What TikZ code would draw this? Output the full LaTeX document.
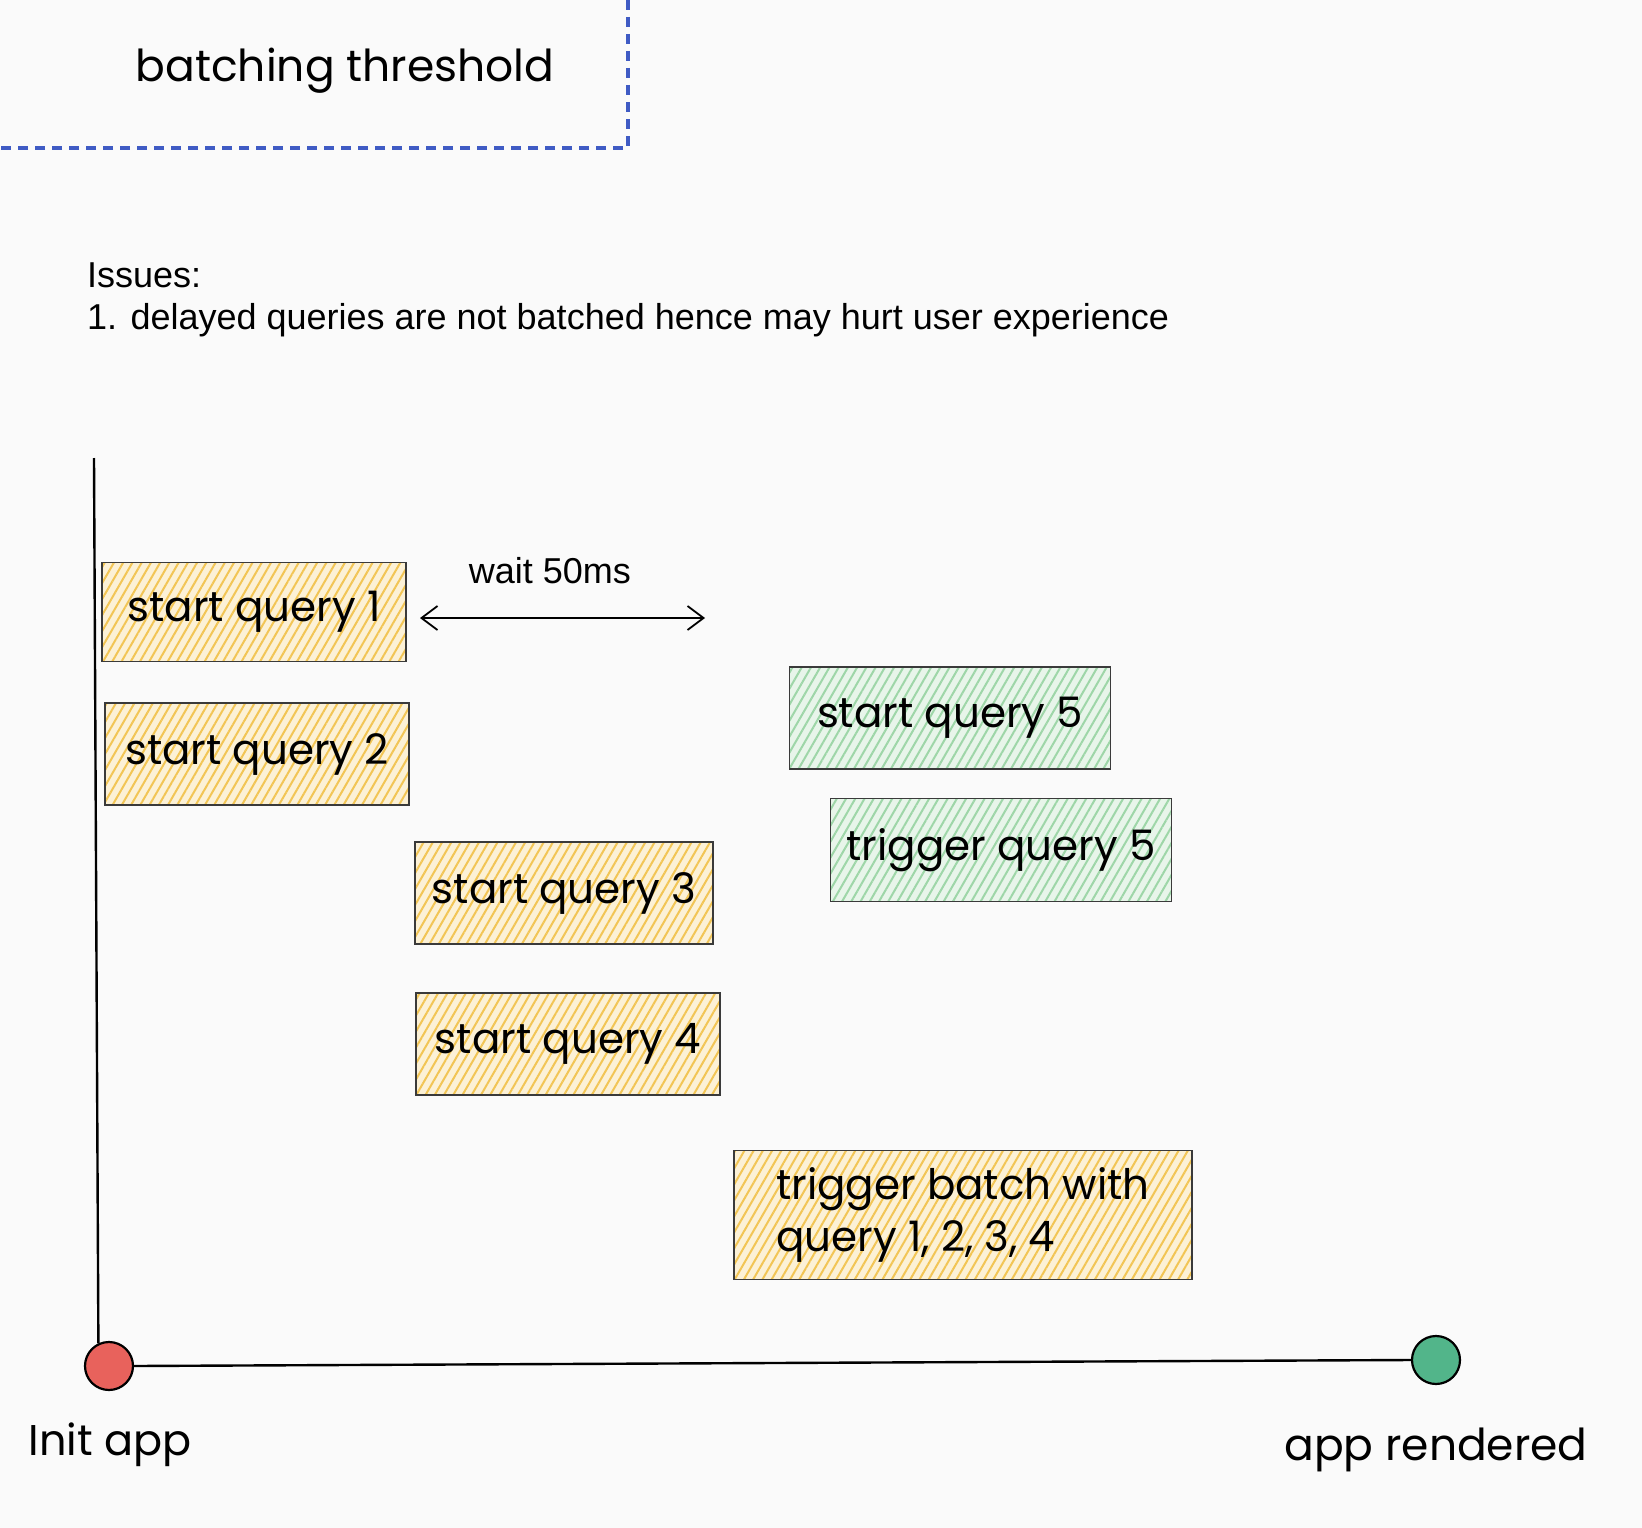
\documentclass[tikz,border=0pt]{standalone}
\usepackage{fontspec}
\setmainfont{Liberation Sans}
\newfontfamily\hand{Poppins}
\usetikzlibrary{patterns.meta,arrows.meta}
\definecolor{bgc}{HTML}{FAFAFA}
\definecolor{dashblue}{HTML}{3F5BC4}
\definecolor{boxline}{HTML}{3A3A3A}
\definecolor{ybg}{HTML}{FCF1D6}
\definecolor{yhatch}{HTML}{F2C555}
\definecolor{gbg}{HTML}{E8F5EA}
\definecolor{ghatch}{HTML}{9ED6A8}
\definecolor{redc}{HTML}{E8625C}
\definecolor{greenc}{HTML}{52B58A}
\tikzset{
  qbox/.style={draw=boxline, line width=1.6, preaction={fill=ybg},
    pattern={Lines[angle=60,distance=8pt,line width=2pt]}, pattern color=yhatch,
    font=\hand\fontsize{42}{52}\selectfont, inner sep=0pt},
  gbox/.style={qbox, preaction={fill=gbg}, pattern color=ghatch},
  dot/.style={circle, draw=black, line width=2.2, minimum size=46pt, inner sep=0pt},
  axis/.style={line width=2.4, draw=black},
  sans/.style={font=\fontsize{36}{42}\selectfont},
}
\begin{document}
\begin{tikzpicture}[x=1pt,y=-1pt]
\fill[bgc] (0,0) rectangle (1642,1528);
\useasboundingbox (0,0) rectangle (1642,1528);
% dashed frame
\coordinate (fa) at (628,0);
\coordinate (fb) at (628,148);
\coordinate (fc) at (0,148);
\draw[dashblue, line width=3.2, dash pattern=on 10pt off 7pt] (fa) -- (fb) -- (fc);
\node[font=\hand\fontsize{44}{50}\selectfont] (title) at (345,71) {batching threshold};
% issues
\node[sans, anchor=north west, align=left, inner sep=0pt] (issues) at (87,263)
  {Issues:\\1. delayed queries are not batched hence may hurt user experience};
% boxes
\node[qbox, minimum width=304pt, minimum height=99pt] (q1) at (254,612) {start query 1};
\node[qbox, minimum width=304pt, minimum height=102pt] (q2) at (257,754) {start query 2};
\node[qbox, minimum width=298pt, minimum height=102pt] (q3) at (564,893) {start query 3};
\node[qbox, minimum width=304pt, minimum height=102pt] (q4) at (568,1044) {start query 4};
\node[gbox, minimum width=321pt, minimum height=102pt] (q5) at (950,718) {start query 5};
\node[gbox, minimum width=341pt, minimum height=103pt] (t5) at (1001,850) {trigger query 5};
\node[qbox, minimum width=458pt, minimum height=129pt, align=left] (tb) at (963,1215)
  {trigger batch with\\query 1, 2, 3, 4};
% wait arrow
\coordinate (wa) at (705,618);
\draw[line width=1.8, {Straight Barb[length=16pt,width=24pt]}-{Straight Barb[length=16pt,width=24pt]}]
  ([shift={(13,6)}]q1.east) -- (wa);
\node[sans] (waitlbl) at (550,571) {wait 50ms};
% axes
\node[dot, fill=redc, minimum width=48pt, minimum height=44pt] (init) at (109,1366) {};
\node[dot, fill=greenc, minimum width=48pt, minimum height=44pt] (done) at (1436,1360) {};
\coordinate (top) at (94,458);
\draw[axis] (top) -- (init.115);
\draw[axis] (init.east) -- (done.west);
\node[font=\hand\fontsize{43}{48}\selectfont] (initlbl) at (110,1445) {Init app};
\node[font=\hand\fontsize{44}{48}\selectfont] (donelbl) at (1436,1450) {app rendered};
\end{tikzpicture}
\end{document}
